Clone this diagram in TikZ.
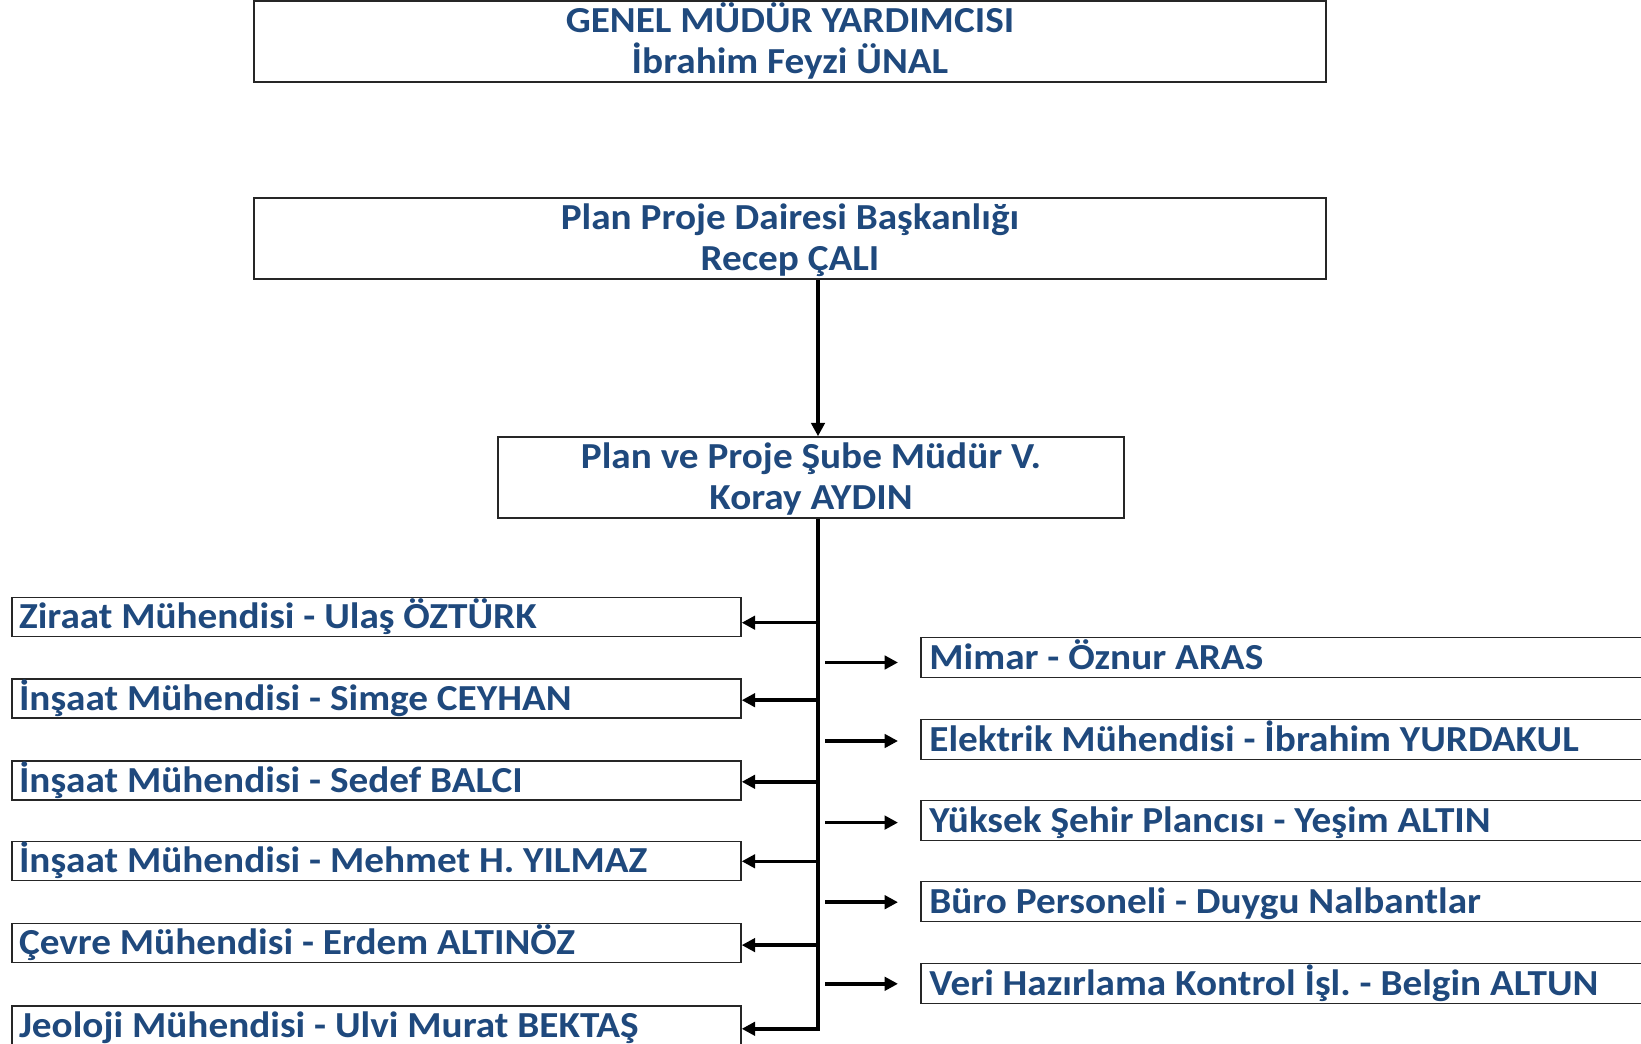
\documentclass[tikz,border=0pt]{standalone}
\usepackage{fontspec}
\setmainfont{Carlito}[FakeStretch=1.07]
\usetikzlibrary{arrows.meta}
\definecolor{txtblue}{RGB}{31,73,125}
\begin{document}
\frenchspacing
\begin{tikzpicture}[x=0.75pt,y=-0.75pt,
  box/.style={draw=black!85, line width=1.1pt, inner ysep=0pt,
    font=\frenchspacing\bfseries\fontsize{27.5}{30.5}\selectfont, text=txtblue},
  headbox/.style={box, minimum height=60.75pt, inner xsep=0pt, align=center,
    text height=52.5pt, text depth=4.6pt},
  leftbox/.style={box, inner xsep=5.25pt, text width=536.25pt, align=flush left,
    minimum height=29.3pt, text height=22pt, text depth=4.6pt},
  rightbox/.style={box, inner xsep=6.3pt, text width=571.65pt, align=flush left,
    minimum height=30pt, text height=22pt, text depth=4.6pt},
  conn/.style={line width=2.6pt, -{Triangle[length=10pt,width=10pt]}},
  trunkline/.style={line width=2.8pt}
]
\useasboundingbox (0,0) rectangle (1641,1044);
\begin{scope}
\clip (0,0) rectangle (1641,1044);
% heads
\node[headbox, minimum width=804pt] (gm) at (790,41.5) {GENEL MÜDÜR YARDIMCISI\\İbrahim Feyzi ÜNAL};
\node[headbox, minimum width=804pt] (pd) at (790,238.5) {Plan Proje Dairesi Başkanlığı\\Recep ÇALI};
\node[headbox, minimum width=469.5pt] (sm) at (811,477.5) {Plan ve Proje Şube Müdür V.\\Koray AYDIN};
% left staff
\node[leftbox] (l1) at (376.5,617) {Ziraat Mühendisi - Ulaş ÖZTÜRK};
\node[leftbox] (l2) at (376.5,698.5) {İnşaat Mühendisi - Simge CEYHAN};
\node[leftbox] (l3) at (376.5,780.5) {İnşaat Mühendisi - Sedef BALCI};
\node[leftbox] (l4) at (376.5,861) {İnşaat Mühendisi - Mehmet H. YILMAZ};
\node[leftbox] (l5) at (376.5,943) {Çevre Mühendisi - Erdem ALTINÖZ};
\node[leftbox] (l6) at (376.5,1025.5) {Jeoloji Mühendisi - Ulvi Murat BEKTAŞ};
% right staff
\node[rightbox] (r1) at (1310.5,657.5) {Mimar - Öznur ARAS};
\node[rightbox] (r2) at (1310.5,739.5) {Elektrik Mühendisi - İbrahim YURDAKUL};
\node[rightbox] (r3) at (1310.5,820.5) {Yüksek Şehir Plancısı - Yeşim ALTIN};
\node[rightbox] (r4) at (1310.5,901.5) {Büro Personeli - Duygu Nalbantlar};
\node[rightbox] (r5) at (1310.5,983.5) {Veri Hazırlama Kontrol İşl. - Belgin ALTUN};
% trunk coordinates
\coordinate (t1) at (818,622.7);
\coordinate (t2) at (818,700.2);
\coordinate (t3) at (818,781.8);
\coordinate (t4) at (818,861.3);
\coordinate (t5) at (818,945.1);
\coordinate (t6) at (818,1028.8);
\coordinate (s1) at (825,662.5);
\coordinate (s2) at (825,741);
\coordinate (s3) at (825,822.6);
\coordinate (s4) at (825,902.2);
\coordinate (s5) at (825,983.8);
\coordinate (e1) at (898,662.5);
\coordinate (e2) at (898,741);
\coordinate (e3) at (898,822.6);
\coordinate (e4) at (898,902.2);
\coordinate (e5) at (898,983.8);
% connectors
\draw[conn] ([xshift=21pt]pd.south) -- ([xshift=5.25pt]sm.north);
\draw[trunkline] ([xshift=5.25pt]sm.south) -- ([yshift=-1.4pt]t6);
\foreach \i in {1,...,6} {\draw[conn] (t\i) -- (t\i -| l\i.east);}
\foreach \i in {1,...,5} {\draw[conn] (s\i) -- (e\i);}
\end{scope}
\end{tikzpicture}
\end{document}
